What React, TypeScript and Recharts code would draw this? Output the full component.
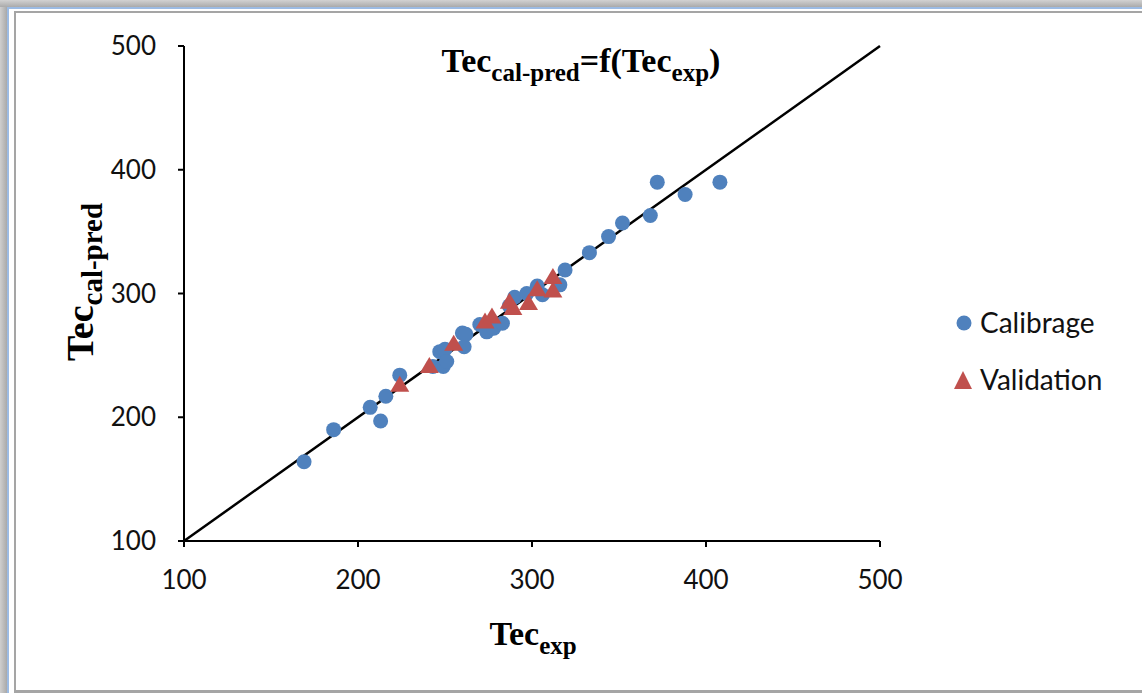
import React from "react";
import { ScatterChart, Scatter, XAxis, YAxis, ReferenceLine } from "recharts";

const xTicks = [100, 200, 300, 400, 500];
const yTicks = [100, 200, 300, 400, 500];

const calibExp = [169, 186, 207, 213, 216, 224, 243, 249, 247, 250, 251, 261, 260, 262, 270, 274, 278, 283, 287, 290, 297, 303, 306, 316, 319, 333, 344, 352, 368, 372, 388, 408];
const calibPred = [164, 190, 208, 197, 217, 234, 241, 241, 253, 255, 245, 257, 268, 267, 275, 269, 272, 276, 290, 297, 300, 306, 299, 307, 319, 333, 346, 357, 363, 390, 380, 390];

const validExp = [224, 241, 255, 273, 277, 287, 289, 298, 303, 312, 312];
const validPred = [225, 240, 258, 276, 280, 292, 287, 291, 302, 312, 301];

const calibData = calibExp.map((x, i) => ({ x, y: calibPred[i] }));
const validData = validExp.map((x, i) => ({ x, y: validPred[i] }));

const BLUE = "#4F81BD";
const RED = "#C0504D";
const TICK_FONT = "Lato, 'Open Sans', sans-serif";
const SERIF = "'Liberation Serif', 'Times New Roman', serif";

const Dot = (props: any) => {
  const { cx, cy } = props;
  if (cx == null || cy == null) return null;
  return <circle cx={cx} cy={cy} r={7.5} fill={BLUE} />;
};

const Tri = (props: any) => {
  const { cx, cy } = props;
  if (cx == null || cy == null) return null;
  const h = 16;
  const w = 19;
  return (
    <path
      d={`M${cx},${cy - (2 * h) / 3} L${cx + w / 2},${cy + h / 3} L${cx - w / 2},${cy + h / 3} Z`}
      fill={RED}
    />
  );
};

export default function App() {
  return (
    <div style={{ position: "absolute", left: 0, top: 0, width: 1142, height: 693, background: "#fff", overflow: "hidden" }}>
      {/* frame */}
      <div style={{ position: "absolute", left: 0, top: 0, width: 7, height: 693, background: "linear-gradient(to right,#cfcfcf,#a9a9a9)" }} />
      <div style={{ position: "absolute", left: 0, top: 0, width: 1142, height: 7, background: "linear-gradient(to bottom,#d2d2d2,#aaaaaa)" }} />
      <div style={{ position: "absolute", left: 7, top: 7, width: 2, height: 686, background: "#9cbbe3" }} />
      <div style={{ position: "absolute", left: 7, top: 7, width: 1135, height: 2, background: "#9cbbe3" }} />
      <div style={{ position: "absolute", left: 14, top: 11, width: 2, height: 682, background: "#a5a5a5" }} />
      <div style={{ position: "absolute", left: 14, top: 11, width: 1128, height: 2, background: "#a5a5a5" }} />
      <div style={{ position: "absolute", left: 14, top: 690, width: 1128, height: 3, background: "#a5a5a5" }} />

      <div style={{ position: "absolute", left: 0, top: 0 }}>
        <ScatterChart width={1142} height={693} margin={{ top: 46, right: 262, bottom: 122, left: 84 }}>
          <XAxis
            type="number"
            dataKey="x"
            domain={[100, 500]}
            ticks={xTicks}
            height={30}
            axisLine={{ stroke: "#000", strokeWidth: 2 }}
            tickLine={{ stroke: "#000", strokeWidth: 2 }}
            tickSize={6}
            tickMargin={24}
            tick={{ fill: "#111", fontSize: 26, fontFamily: TICK_FONT }}
          />
          <YAxis
            type="number"
            dataKey="y"
            domain={[100, 500]}
            ticks={yTicks}
            width={100}
            axisLine={{ stroke: "#000", strokeWidth: 2 }}
            tickLine={{ stroke: "#000", strokeWidth: 2 }}
            tickSize={6}
            tickMargin={22}
            tick={{ fill: "#111", fontSize: 26, fontFamily: TICK_FONT }}
          />
          <ReferenceLine
            segment={[{ x: 100, y: 100 }, { x: 500, y: 500 }]}
            stroke="#000"
            strokeWidth={2.5}
            ifOverflow="visible"
          />
          <Scatter name="Calibrage" data={calibData} fill={BLUE} shape={Dot} isAnimationActive={false} />
          <Scatter name="Validation" data={validData} fill={RED} shape={Tri} isAnimationActive={false} />
        </ScatterChart>
      </div>

      {/* titles */}
      <svg width={1142} height={693} style={{ position: "absolute", left: 0, top: 0, pointerEvents: "none" }}>
        <text x={581} y={72} textAnchor="middle" fontFamily={SERIF} fontWeight="bold" fontSize={34} fill="#000">
          Tec<tspan fontSize={25} dy={9}>cal-pred</tspan><tspan dy={-9}>=f(Tec</tspan><tspan fontSize={25} dy={9}>exp</tspan><tspan dy={-9}>)</tspan>
        </text>
        <text x={533} y={645} textAnchor="middle" fontFamily={SERIF} fontWeight="bold" fontSize={34} fill="#000">
          Tec<tspan fontSize={25} dy={9}>exp</tspan>
        </text>
        <text x={0} y={0} transform="translate(93,282) rotate(-90)" textAnchor="middle" fontFamily={SERIF} fontWeight="bold" fontSize={38} fill="#000">
          Tec<tspan fontSize={29} dy={9}>cal-pred</tspan>
        </text>
        {/* legend */}
        <circle cx={964} cy={323} r={7.5} fill={BLUE} />
        <text x={980} y={333} fontFamily={TICK_FONT} fontSize={28} fill="#111">Calibrage</text>
        <path d="M963,371 L972,389 L954,389 Z" fill={RED} />
        <text x={980} y={390} fontFamily={TICK_FONT} fontSize={28} fill="#111">Validation</text>
      </svg>
    </div>
  );
}
